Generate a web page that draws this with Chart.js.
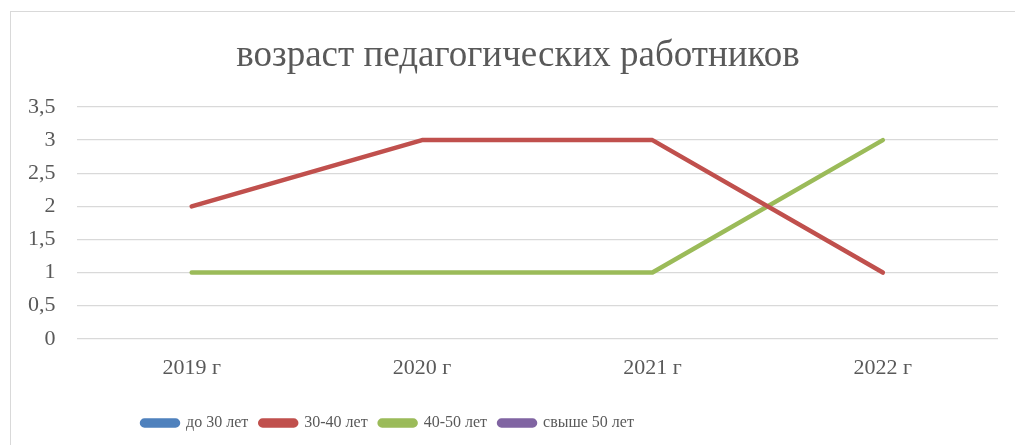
<!DOCTYPE html>
<html><head><meta charset="utf-8">
<script src="https://cdn.jsdelivr.net/npm/chart.js@4/dist/chart.umd.min.js"></script>
<style>
html,body{margin:0;padding:0;background:#fff;overflow:hidden;}
#wrap{position:absolute;left:0;top:0;width:1015px;height:445px;}
#frame{position:absolute;left:10px;top:11px;width:1020px;height:450px;border:1px solid #d9d9d9;box-sizing:border-box;}
</style></head>
<body>
<div id="frame"></div>
<div id="wrap"><canvas id="c" width="1015" height="445"></canvas></div>
<script>
const categories = ['2019 г', '2020 г', '2021 г', '2022 г'];
const seriesNames = ['до 30 лет', '30-40 лет', '40-50 лет', 'свыше 50 лет'];
const under30 = [null, null, null, null];
const from30to40 = [2, 3, 3, 1];
const from40to50 = [1, 1, 1, 3];
const over50 = [null, null, null, null];
const colors = ['#4f81bd', '#c0504d', '#9bbb59', '#8064a2'];
const titleText = 'возраст педагогических работников';

const allData = [under30, from30to40, from40to50, over50];
const FONT = "Liberation Serif";
const LEGEND_PAD = 12;

const titlePlugin = {
  id: 'offsetTitle',
  afterDraw(chart) {
    const ctx = chart.ctx;
    ctx.save();
    ctx.font = "37px 'Liberation Serif'";
    ctx.fillStyle = '#595959';
    ctx.textAlign = 'center';
    ctx.textBaseline = 'alphabetic';
    ctx.fillText(titleText, 518, 66);
    ctx.restore();
  }
};
const legendShift = {
  id: 'legendShift',
  afterLayout(chart) {
    const lg = chart.legend;
    if (lg) {
      lg.left = 142 - LEGEND_PAD;
      lg.top += 5;
      lg.bottom += 5;
    }
  }
};

new Chart(document.getElementById('c'), {
  type: 'line',
  data: {
    labels: categories,
    datasets: allData.map((d, i) => ({
      label: seriesNames[i],
      data: d,
      borderColor: colors[i],
      backgroundColor: colors[i],
      borderWidth: 4.5,
      pointRadius: 0,
      pointHoverRadius: 0,
      borderCapStyle: 'round',
      borderJoinStyle: 'round',
      tension: 0,
      fill: false
    }))
  },
  plugins: [titlePlugin, legendShift],
  options: {
    responsive: false,
    animation: false,
    devicePixelRatio: 1,
    layout: { padding: { left: 7, right: 17, top: 107, bottom: 9 } },
    plugins: {
      tooltip: { enabled: false },
      title: { display: false },
      legend: {
        position: 'bottom',
        align: 'start',
        labels: {
          color: '#595959',
          font: { family: FONT, size: 16 },
          boxWidth: 36,
          boxHeight: 5,
          padding: LEGEND_PAD,
          useBorderRadius: true,
          borderRadius: 2.5
        }
      }
    },
    scales: {
      x: {
        offset: true,
        grid: { display: false, drawTicks: false },
        border: { display: false },
        ticks: { color: '#595959', font: { family: FONT, size: 22, lineHeight: 1.6 }, padding: 12, maxRotation: 0 }
      },
      y: {
        min: 0, max: 3.5,
        grid: { color: '#d9d9d9', lineWidth: 1.3, drawTicks: false },
        border: { display: false },
        ticks: {
          stepSize: 0.5,
          color: '#595959',
          font: { family: FONT, size: 22 },
          padding: 21,
          callback: v => String(v).replace('.', ',')
        }
      }
    }
  }
});
</script>
</body></html>
